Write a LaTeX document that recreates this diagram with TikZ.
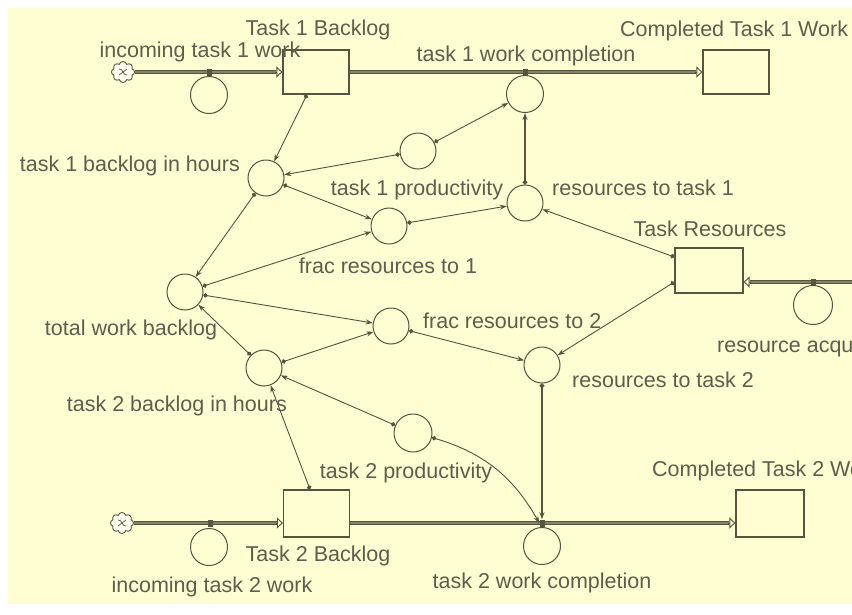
\documentclass[tikz,border=0pt]{standalone}
\usepackage{fontspec}
\setmainfont{Liberation Sans}
\usetikzlibrary{arrows.meta,shapes.symbols,calc}
\definecolor{paper}{HTML}{FEFED2}
\definecolor{ink}{HTML}{55553F}
\definecolor{txt}{HTML}{5E5E4E}

\begin{document}
\begin{tikzpicture}[x=1pt,y=-1pt,
  lbl/.style={text=txt, font=\fontsize{21.5}{23}\selectfont, inner sep=0pt},
  aux/.style={circle, draw=ink, line width=1pt, minimum size=36pt, inner sep=0pt},
  flowc/.style={aux, minimum size=37pt},
  stock/.style={rectangle, draw=ink, line width=1.2pt, minimum width=66pt, minimum height=44pt, fill=paper, inner sep=0pt},
  valve/.style={rectangle, fill=ink, minimum width=5pt, minimum height=7pt, inner sep=0pt},
  src/.style={cloud, cloud puffs=8, draw=ink, fill=white!70!paper, line width=0.9pt, minimum width=23pt, minimum height=21pt, inner sep=0pt},
  swirl/.style={draw=ink, line width=0.7pt},
  pipe/.style={draw=ink, line width=4.8pt, postaction={draw=ink!72!paper, line width=1.2pt}},
  pipetip/.style={draw=ink, line width=0.9pt, -{Triangle[open, length=6pt, width=11pt]}},
  conn/.style={draw=ink, line width=0.9pt, {Circle[length=4.5pt]}-{Stealth[length=7pt, width=5pt]}},
  strong/.style={conn, line width=1.8pt},
]
% page and paper
\useasboundingbox (0,0) rectangle (852,614);
\clip (0,0) rectangle (852,614);
\fill[white] (0,0) rectangle (852,614);
\fill[paper] (8,8) rectangle (860,604);

% stocks
\node[stock] (box1) at (316,72) {};
\node[stock] (done1) at (736,72) {};
\node[stock, minimum width=68pt, minimum height=45pt] (tres) at (709,270.5) {};
\node[stock, minimum height=47pt] (box2) at (316.5,513.5) {};
\node[stock, minimum height=47pt, minimum width=68pt] (done2) at (770,513.5) {};

% sources
\node[src] (cloud1) at (123,72) {};
\node[src] (cloud2) at (122,523) {};
\foreach \c in {cloud1,cloud2}{
  \draw[swirl] ([shift={(-4pt,3pt)}]\c.center) .. controls ([shift={(0pt,4pt)}]\c.center) and ([shift={(0pt,-4pt)}]\c.center) .. ([shift={(4pt,-3pt)}]\c.center);
  \draw[swirl] ([shift={(-4pt,-3pt)}]\c.center) -- ([shift={(4pt,3pt)}]\c.center);
}
\coordinate (raedge) at (870,282);

% pipes
\draw[pipe] (cloud1.east) -- ([xshift=-6pt]box1.west);
\draw[pipetip] ([xshift=-7pt]box1.west) -- (box1.west);
\draw[pipe] (box1.east) -- ([xshift=-6pt]done1.west);
\draw[pipetip] ([xshift=-7pt]done1.west) -- (done1.west);
\draw[pipe] (cloud2.east) -- ([xshift=-6pt,yshift=-9.5pt]box2.west);
\draw[pipetip] ([xshift=-7pt,yshift=-9.5pt]box2.west) -- ([yshift=-9.5pt]box2.west);
\draw[pipe] ([yshift=-9.5pt]box2.east) -- ([xshift=-6pt,yshift=-9.5pt]done2.west);
\draw[pipetip] ([xshift=-7pt,yshift=-9.5pt]done2.west) -- ([yshift=-9.5pt]done2.west);
\draw[pipe] (raedge) -- ([xshift=6pt,yshift=-11.5pt]tres.east);
\draw[pipetip] ([xshift=7pt,yshift=-11.5pt]tres.east) -- ([yshift=-11.5pt]tres.east);

% valves and flow circles
\node[valve] (v1) at (209,72) {};
\node[valve] (v2) at (525,72) {};
\node[valve] (v3) at (210,523) {};
\node[valve] (v4) at (542,523) {};
\node[valve] (v5) at (813,282) {};
\node[flowc] (f1) at (209,95) {};
\node[flowc] (twc1) at (525,94) {};
\node[flowc] (f3) at (209,547) {};
\node[flowc] (twc2) at (542,546) {};
\node[flowc, minimum size=39pt] (f5) at (813,305) {};

% auxiliaries
\node[aux] (tbh1) at (266,178) {};
\node[aux] (tp1) at (418,151) {};
\node[aux] (rt1) at (525,203) {};
\node[aux] (fr1) at (389,226) {};
\node[aux] (twb) at (185,292) {};
\node[aux] (fr2) at (391,326) {};
\node[aux] (tbh2) at (264,368) {};
\node[aux] (rt2) at (542,365) {};
\node[aux, minimum size=38pt] (tp2) at (413,433) {};

% connectors
\draw[conn] ([xshift=-9pt]box1.south) -- (tbh1);
\draw[conn] (tp1) -- (tbh1);
\draw[conn] (tp1) -- (twc1);
\draw[conn] (tbh1) -- (fr1);
\draw[conn] (tbh1) -- (twb);
\draw[conn] (twb) -- (fr1);
\draw[conn] (twb) -- (fr2);
\draw[conn] (fr1) -- (rt1);
\draw[strong] (rt1.north) -- (twc1.south);
\draw[conn] ([yshift=13.5pt]tres.west) -- (rt1);
\draw[conn] ([yshift=-11.5pt]tres.west) -- (rt2);
\draw[conn] (fr2) -- (rt2);
\draw[conn] (tbh2) -- (twb);
\draw[conn] (tbh2) -- (fr2);
\draw[conn] (tp2) -- (tbh2);
\draw[conn] ([xshift=-6.5pt]box2.north) -- (tbh2);
\draw[conn] (tp2) to[bend left=22] (v4.west);
\draw[strong] (rt2.south) -- (v4.north);

% labels
\node[lbl] at (318,30) {Task 1 Backlog};
\node[lbl] at (200,52) {incoming task 1 work};
\node[lbl] at (526,56) {task 1 work completion};
\node[lbl, anchor=west] at (620,31) {Completed Task 1 Work};
\node[lbl, anchor=east] at (240,166) {task 1 backlog in hours};
\node[lbl] at (417,190) {task 1 productivity};
\node[lbl, anchor=west] at (552,188) {resources to task 1};
\node[lbl] at (710,229) {Task Resources};
\node[lbl] at (388,266) {frac resources to 1};
\node[lbl] at (131,330) {total work backlog};
\node[lbl, anchor=west] at (423,321) {frac resources to 2};
\node[lbl, anchor=west] at (717,347) {resource acquisition};
\node[lbl, anchor=west] at (572,380) {resources to task 2};
\node[lbl, anchor=east] at (287,406) {task 2 backlog in hours};
\node[lbl] at (406,473) {task 2 productivity};
\node[lbl, anchor=west] at (652,471) {Completed Task 2 Work};
\node[lbl] at (318,556) {Task 2 Backlog};
\node[lbl] at (212,587) {incoming task 2 work};
\node[lbl] at (542,583) {task 2 work completion};
\end{tikzpicture}
\end{document}
